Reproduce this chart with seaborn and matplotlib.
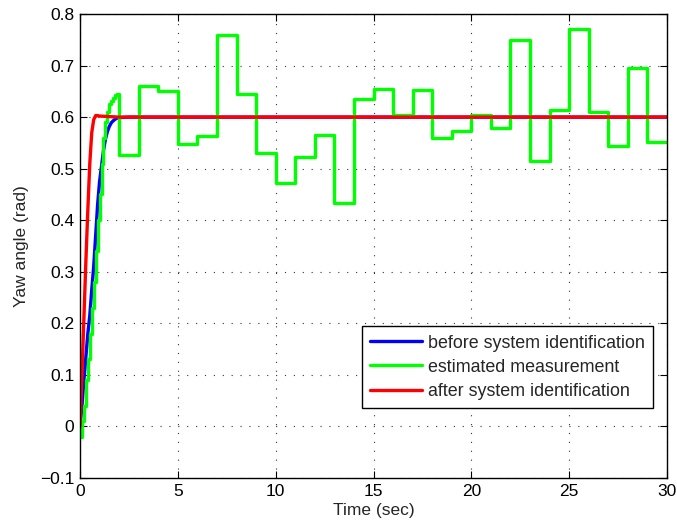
import numpy as np
import pandas as pd
import seaborn as sns
import matplotlib
matplotlib.use("Agg")
import matplotlib.pyplot as plt

# Yaw response before identification (model output)
t_before = [0.0, 0.1, 0.2, 0.3, 0.4, 0.5, 0.6, 0.7, 0.8, 0.9, 1.0, 1.1, 1.2,
            1.3, 1.4, 1.5, 1.6, 1.7, 1.8, 1.9, 2.0, 2.5, 30.0]
yaw_before = [0.0, 0.04, 0.09, 0.135, 0.18, 0.215, 0.265, 0.31, 0.37, 0.43,
              0.475, 0.505, 0.535, 0.557, 0.572, 0.582, 0.589, 0.593, 0.596,
              0.598, 0.599, 0.600, 0.600]

# Estimated yaw measurement (sample-and-hold)
t_meas = [0.0, 0.1, 0.2, 0.3, 0.4, 0.5, 0.6, 0.7, 0.8, 0.9, 1.0, 1.1, 1.2,
          1.3, 1.4, 1.5, 1.6, 1.7, 1.8, 1.9,
          2, 3, 4, 5, 6, 7, 8, 9, 10, 11, 12, 13, 14, 15, 16, 17, 18, 19,
          20, 21, 22, 23, 24, 25, 26, 27, 28, 29, 30]
yaw_meas = [-0.02, 0.01, 0.04, 0.09, 0.13, 0.18, 0.23, 0.28, 0.34, 0.40,
            0.45, 0.51, 0.56, 0.59, 0.61, 0.625, 0.632, 0.638, 0.642, 0.645,
            0.527, 0.660, 0.650, 0.548, 0.563, 0.760, 0.645, 0.530, 0.473,
            0.523, 0.566, 0.434, 0.635, 0.655, 0.605, 0.652, 0.560, 0.574,
            0.605, 0.578, 0.750, 0.514, 0.613, 0.771, 0.610, 0.543, 0.695,
            0.552, 0.552]

# Yaw response after identification (model output)
t_after = [0.0, 0.1, 0.2, 0.3, 0.4, 0.5, 0.6, 0.7, 0.8, 0.9, 1.0, 1.5, 2.0, 30.0]
yaw_after = [0.0, 0.10, 0.21, 0.32, 0.42, 0.51, 0.57, 0.595, 0.603, 0.603,
             0.602, 0.601, 0.600, 0.600]

x_ticks = [0, 5, 10, 15, 20, 25, 30]
y_ticks = [-0.1, 0.0, 0.1, 0.2, 0.3, 0.4, 0.5, 0.6, 0.7, 0.8]
y_tick_labels = ["\u22120.1", "0", "0.1", "0.2", "0.3", "0.4", "0.5", "0.6", "0.7", "0.8"]

sns.set_theme(style="white")
plt.rcParams["font.family"] = ["Liberation Sans", "DejaVu Sans"]
plt.rcParams["axes.unicode_minus"] = True

df_before = pd.DataFrame({"t": t_before, "yaw": yaw_before})
df_meas = pd.DataFrame({"t": t_meas, "yaw": yaw_meas})
df_after = pd.DataFrame({"t": t_after, "yaw": yaw_after})

fig = plt.figure(figsize=(6.77, 5.26), dpi=100)
ax = fig.add_axes([80 / 677, 1 - 478 / 526, (667 - 80) / 677, (478 - 14) / 526])

fs = 12.5
lw = 2.4
sns.lineplot(data=df_before, x="t", y="yaw", ax=ax, color="#0000ff", lw=lw,
             label="before system identification")
sns.lineplot(data=df_meas, x="t", y="yaw", ax=ax, color="#00ff00", lw=lw,
             drawstyle="steps-post", label="estimated measurement")
sns.lineplot(data=df_after, x="t", y="yaw", ax=ax, color="#ff0000", lw=lw,
             label="after system identification")

ax.set_xlim(0, 30)
ax.set_ylim(-0.1, 0.8)
ax.set_xticks(x_ticks)
ax.set_xticklabels([str(v) for v in x_ticks])
ax.set_yticks(y_ticks)
ax.set_yticklabels(y_tick_labels)
ax.tick_params(direction="in", length=5, width=0.8, colors="black",
               labelsize=fs, top=True, right=True, bottom=True, left=True,
               pad=4)
ax.grid(True, color="#333333", linestyle=(0, (1, 7)), linewidth=0.8)
for s in ax.spines.values():
    s.set_color("black")
    s.set_linewidth(1.0)

ax.set_xlabel("Time (sec)", fontsize=fs, labelpad=3)
ax.set_ylabel("Yaw angle (rad)", fontsize=fs, labelpad=8)

leg = ax.legend(loc="lower right", bbox_to_anchor=(0.976, 0.151),
                borderaxespad=0, fontsize=12.9, handlelength=2.9,
                handletextpad=0.35, labelspacing=0.4, frameon=True,
                fancybox=False, framealpha=1, edgecolor="black",
                borderpad=0.45)
leg.get_frame().set_linewidth(1.0)

fig.savefig("out.png", dpi=100, facecolor="white")
